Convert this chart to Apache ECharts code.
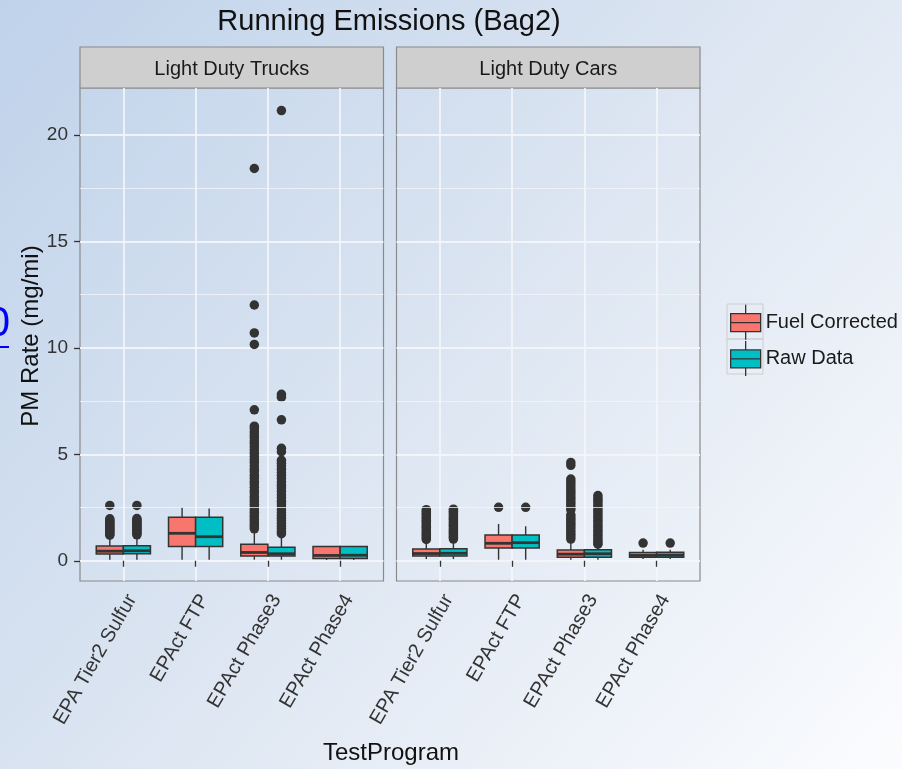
<!DOCTYPE html>
<html>
<head>
<meta charset="utf-8">
<title>Running Emissions (Bag2)</title>
<script src="https://cdn.jsdelivr.net/npm/echarts@6/dist/echarts.min.js"></script>
<style>
html, body { margin: 0; padding: 0; }
#main { width: 902px; height: 769px; }
</style>
</head>
<body>
<div id="main"></div>
<script>
var programs = ['EPA Tier2 Sulfur', 'EPAct FTP', 'EPAct Phase3', 'EPAct Phase4'];
var panels = ['Light Duty Trucks', 'Light Duty Cars'];
var groups = ['Fuel Corrected', 'Raw Data'];
var yTicks = [0, 5, 10, 15, 20];
var yMinorGrid = [2.5, 7.5, 12.5, 17.5];

// box stats per program: [low whisker, q1, median, q3, high whisker]
var trucksFuelBox = [[0.05, 0.32, 0.45, 0.69, 1.15], [0.05, 0.67, 1.29, 2.04, 2.51], [0.05, 0.22, 0.39, 0.78, 1.41], [0.04, 0.11, 0.25, 0.67, 0.69]];
var trucksRawBox  = [[0.05, 0.33, 0.47, 0.70, 1.16], [0.05, 0.67, 1.13, 2.04, 2.45], [0.05, 0.22, 0.33, 0.63, 1.12], [0.04, 0.11, 0.26, 0.67, 0.69]];
var carsFuelBox   = [[0.08, 0.22, 0.34, 0.55, 0.94], [0.05, 0.60, 0.82, 1.21, 1.73], [0.05, 0.16, 0.31, 0.50, 0.94], [0.08, 0.16, 0.25, 0.39, 0.52]];
var carsRawBox    = [[0.08, 0.22, 0.35, 0.56, 0.95], [0.05, 0.60, 0.85, 1.21, 1.62], [0.05, 0.17, 0.33, 0.52, 0.72], [0.08, 0.17, 0.26, 0.40, 0.52]];

// outliers per program
var trucksFuelOut = [
    [1.2, 1.27, 1.33, 1.4, 1.46, 1.52, 1.58, 1.65, 1.71, 1.78, 1.84, 1.9, 1.97, 2.6],
    [],
    [18.42, 12.01, 10.7, 10.16, 7.09, 6.32, 6.2, 6.05, 5.9, 5.78, 5.62, 5.5, 5.35, 5.2, 5.05, 4.9, 4.75, 4.62, 4.45, 4.3, 4.18, 4.02, 3.88, 3.72, 3.6, 3.45, 3.3, 3.18, 3.02, 2.9, 2.78, 2.65, 2.52, 2.4, 2.28, 2.15, 2.05, 1.93, 1.82, 1.7, 1.6, 1.5],
    []
];
var trucksRawOut = [
    [1.22, 1.28, 1.35, 1.41, 1.47, 1.54, 1.6, 1.66, 1.73, 1.8, 1.86, 1.92, 1.98, 2.6],
    [],
    [21.14, 7.82, 7.68, 6.62, 5.28, 5.12, 4.72, 4.58, 4.45, 4.3, 4.15, 4.0, 3.86, 3.7, 3.55, 3.42, 3.26, 3.1, 2.96, 2.8, 2.66, 2.52, 2.38, 2.25, 2.12, 2.0, 1.88, 1.75, 1.62, 1.5, 1.38, 1.27],
    []
];
var carsFuelOut = [
    [1.0, 1.08, 1.16, 1.24, 1.32, 1.4, 1.49, 1.57, 1.65, 1.73, 1.82, 1.9, 1.98, 2.06, 2.15, 2.23, 2.31, 2.4],
    [2.51],
    [4.62, 4.48, 3.84, 3.72, 3.6, 3.48, 3.35, 3.22, 3.1, 2.98, 2.86, 2.74, 2.62, 2.5, 2.4, 2.16, 2.05, 1.94, 1.83, 1.72, 1.6, 1.49, 1.37, 1.25, 1.13, 1.02],
    [0.83]
];
var carsRawOut = [
    [1.02, 1.1, 1.18, 1.26, 1.34, 1.42, 1.5, 1.59, 1.67, 1.75, 1.83, 1.92, 2.0, 2.08, 2.17, 2.25, 2.33, 2.42],
    [2.51],
    [3.06, 2.95, 2.84, 2.72, 2.6, 2.48, 2.36, 2.25, 2.13, 2.02, 1.9, 1.78, 1.66, 1.55, 1.43, 1.31, 1.2, 1.08, 0.97, 0.86, 0.78],
    [0.83]
];

var FONT = '"Liberation Sans", Arial, sans-serif';
var colors = ['#F8766D', '#00BFC4'];
var BOX_W = 0.375;            // dodged box width in category units
var offsets = [-BOX_W / 2, BOX_W / 2];
var panelLeft = [80, 396.5];
var panelWidth = 303.5;

function boxData(stats) {
    return stats.map(function (s, i) { return [i + 1].concat(s); });
}

function outlierData(out, offset) {
    var pts = [];
    out.forEach(function (vals, i) {
        vals.forEach(function (v) { pts.push([i + 1 + offset, v]); });
    });
    return pts;
}

function boxRenderer(offset) {
    return function (params, api) {
        var x = api.value(0) + offset;
        var half = api.size([BOX_W, 0])[0] / 2;
        var lo = api.coord([x, api.value(1)]);
        var q1 = api.coord([x, api.value(2)]);
        var md = api.coord([x, api.value(3)]);
        var q3 = api.coord([x, api.value(4)]);
        var hi = api.coord([x, api.value(5)]);
        var line = { stroke: '#333333', lineWidth: 1.4 };
        return {
            type: 'group',
            children: [
                { type: 'line', shape: { x1: lo[0], y1: lo[1], x2: q1[0], y2: q1[1] }, style: line },
                { type: 'line', shape: { x1: q3[0], y1: q3[1], x2: hi[0], y2: hi[1] }, style: line },
                { type: 'rect', shape: { x: q3[0] - half, y: q3[1], width: half * 2, height: q1[1] - q3[1] },
                  style: { fill: api.visual('color'), stroke: '#333333', lineWidth: 1.5 } },
                { type: 'line', shape: { x1: md[0] - half, y1: md[1], x2: md[0] + half, y2: md[1] },
                  style: { stroke: '#333333', lineWidth: 2.8 } }
            ]
        };
    };
}

var boxes = [[trucksFuelBox, trucksRawBox], [carsFuelBox, carsRawBox]];
var outs = [[trucksFuelOut, trucksRawOut], [carsFuelOut, carsRawOut]];

var grids = [], xAxes = [], yAxes = [], series = [], graphics = [];

panels.forEach(function (panel, k) {
    grids.push({
        left: panelLeft[k], top: 88, width: panelWidth, height: 493,
        show: true, borderColor: '#8a8a8a', borderWidth: 1.2, backgroundColor: 'transparent'
    });
    xAxes.push({
        gridIndex: k, type: 'value', min: 0.4, max: 4.6,
        axisLine: { show: false },
        axisTick: { show: true, customValues: [1, 2, 3, 4], length: 6, lineStyle: { color: '#333', width: 1.3 } },
        axisLabel: {
            customValues: [1, 2, 3, 4], rotate: 60, margin: 10, verticalAlign: 'top',
            fontSize: 20, fontFamily: FONT, color: '#333',
            formatter: function (v) { return programs[Math.round(v) - 1] || ''; }
        },
        splitLine: { show: true, lineStyle: { color: 'rgba(244,246,249,0.9)', width: 1.9 } }
    });
    yAxes.push({
        gridIndex: k, type: 'value', min: -0.95, max: 22.2,
        axisLine: { show: false },
        axisTick: { show: k === 0, customValues: yTicks, length: 6, lineStyle: { color: '#333', width: 1.3 } },
        axisLabel: {
            show: k === 0, customValues: yTicks, margin: 12,
            fontSize: 19, fontFamily: FONT, color: '#333',
            formatter: function (v) { return v % 5 === 0 ? String(v) : ''; }
        },
        splitLine: { show: true, lineStyle: { color: 'rgba(244,246,249,0.9)', width: 1.9 } }
    });

    // minor horizontal grid lines
    series.push({
        type: 'line', xAxisIndex: k, yAxisIndex: k, data: [], silent: true, z: 1,
        markLine: {
            silent: true, symbol: 'none', label: { show: false },
            lineStyle: { color: 'rgba(244,246,249,0.75)', width: 1, type: 'solid' },
            data: yMinorGrid.map(function (v) { return { yAxis: v }; })
        }
    });

    groups.forEach(function (g, j) {
        series.push({
            type: 'custom', name: g, xAxisIndex: k, yAxisIndex: k, z: 2,
            itemStyle: { color: colors[j] },
            renderItem: boxRenderer(offsets[j]),
            data: boxData(boxes[k][j])
        });
    });
    groups.forEach(function (g, j) {
        series.push({
            type: 'scatter', name: g + ' outliers', xAxisIndex: k, yAxisIndex: k, z: 3, silent: true,
            symbolSize: 9.5, itemStyle: { color: '#333333', opacity: 1 },
            data: outlierData(outs[k][j], offsets[j])
        });
    });

    // facet strip
    graphics.push({
        type: 'rect', shape: { x: panelLeft[k], y: 47, width: panelWidth, height: 41 },
        style: { fill: '#cfcfcf', stroke: '#8a8a8a', lineWidth: 1.2 }
    });
    graphics.push({
        type: 'text', x: panelLeft[k] + panelWidth / 2, y: 69,
        style: { text: panel, align: 'center', verticalAlign: 'middle', fontSize: 20, fontFamily: FONT, fill: '#1a1a1a' }
    });
});

// title, axis titles
graphics.push({
    type: 'text', x: 389, y: 22,
    style: { text: 'Running Emissions (Bag2)', align: 'center', verticalAlign: 'middle', fontSize: 29, fontFamily: FONT, fill: '#111' }
});
graphics.push({
    type: 'text', x: 391, y: 753,
    style: { text: 'TestProgram', align: 'center', verticalAlign: 'middle', fontSize: 24, fontFamily: FONT, fill: '#111' }
});
graphics.push({
    type: 'text', x: 31, y: 336, rotation: Math.PI / 2,
    style: { text: 'PM Rate (mg/mi)', align: 'center', verticalAlign: 'middle', fontSize: 24, fontFamily: FONT, fill: '#111' }
});
// legend key backgrounds
graphics.push({ type: 'rect', shape: { x: 727, y: 304, width: 36, height: 35 }, style: { fill: 'none', stroke: '#cccccc', lineWidth: 1 } });
graphics.push({ type: 'rect', shape: { x: 727, y: 339, width: 36, height: 35 }, style: { fill: 'none', stroke: '#cccccc', lineWidth: 1 } });
// clipped slide hyperlink at the left edge
graphics.push({
    type: 'text', x: 10, y: 345,
    style: { text: '0', align: 'right', verticalAlign: 'bottom', fontSize: 42, fontFamily: FONT, fill: '#0000ff' }
});
graphics.push({ type: 'line', shape: { x1: 0, y1: 347, x2: 9, y2: 347 }, style: { stroke: '#0000ff', lineWidth: 2 } });

var keyIcon = 'path://M3,9L33,9L33,27L3,27Z M18,0L18,9 M18,27L18,35 M3,18L33,18';

var myChart = echarts.init(document.getElementById('main'));
var option = {
    backgroundColor: {
        type: 'linear', x: 0, y: 0, x2: 1, y2: 1,
        colorStops: [{ offset: 0, color: '#bfd2ea' }, { offset: 0.5, color: '#dde6f2' }, { offset: 1, color: '#fbfcfe' }]
    },
    animation: false,
    legend: {
        orient: 'vertical', left: 730, top: 304, padding: 0, itemWidth: 30, itemHeight: 35, itemGap: 0,
        textStyle: { fontSize: 20, fontFamily: FONT, color: '#1a1a1a' },
        itemStyle: { borderColor: '#333333', borderWidth: 1.3 },
        data: [{ name: 'Fuel Corrected', icon: keyIcon }, { name: 'Raw Data', icon: keyIcon }]
    },
    grid: grids,
    xAxis: xAxes,
    yAxis: yAxes,
    series: series,
    graphic: graphics
};

myChart.setOption(option);
</script>
</body>
</html>
